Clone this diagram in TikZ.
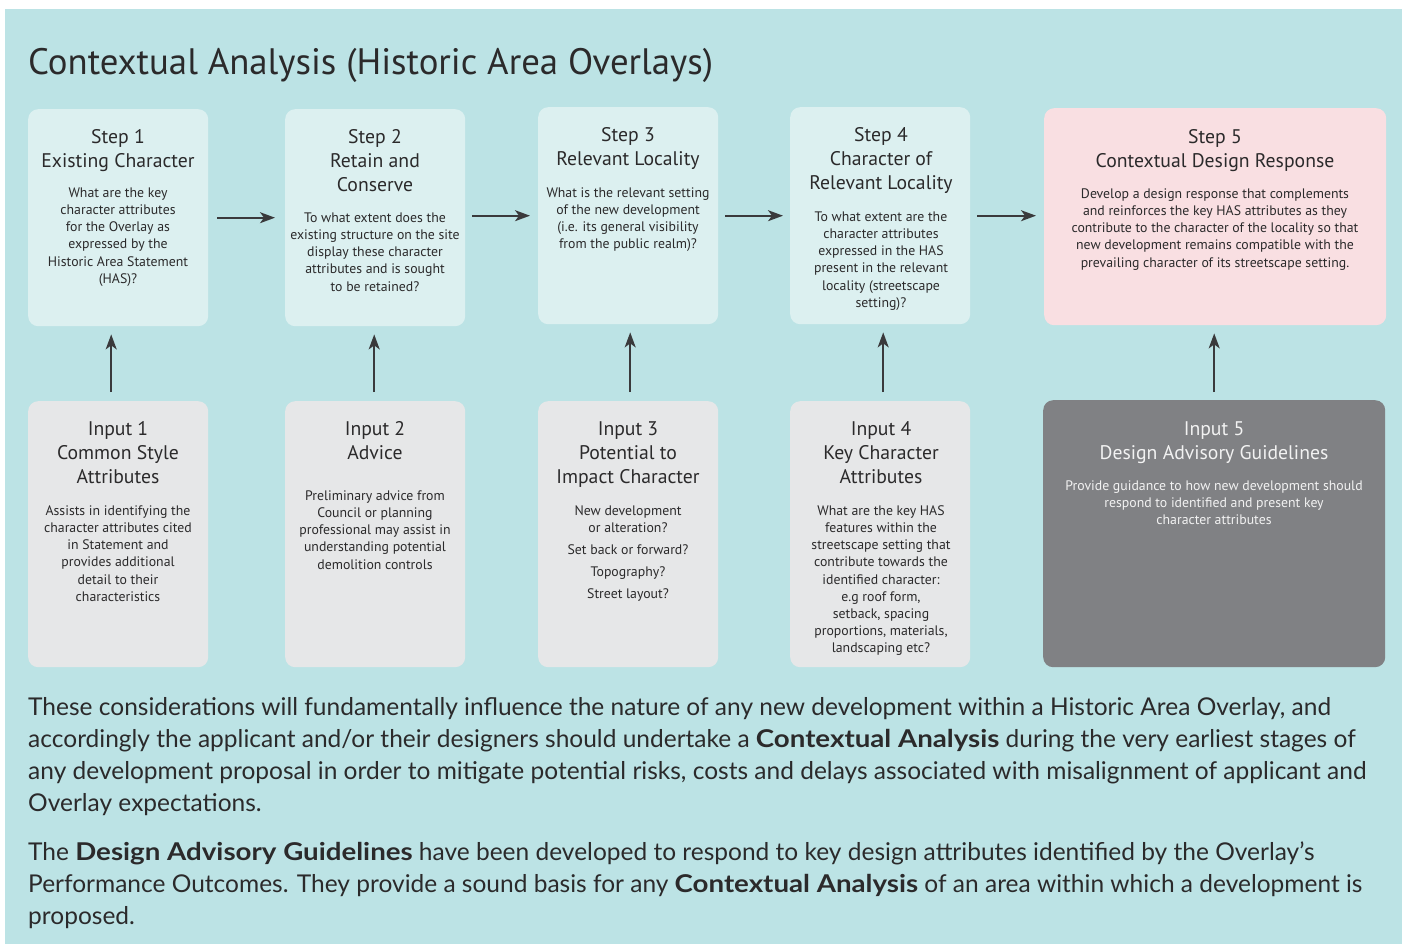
\documentclass[tikz,border=0pt]{standalone}
\usepackage{fontspec}
\setmainfont{PT Sans}
\newfontfamily\gillfont{Lato}
\usetikzlibrary{arrows.meta,calc}
\definecolor{bgc}{HTML}{BCE3E5}
\definecolor{stepc}{HTML}{DCF0F0}
\definecolor{pinkc}{HTML}{F9DFE2}
\definecolor{inc}{HTML}{E6E7E8}
\definecolor{darkc}{HTML}{808184}
\definecolor{txt}{HTML}{2B2A2B}
\definecolor{arr}{HTML}{3A3A3C}
\newcommand\wbold[1]{\scalebox{1.13}[1]{\textbf{#1}}}
\tikzset{
  card/.style={rounded corners=10pt, inner sep=0pt, minimum width=180pt, minimum height=217pt},
  wide/.style={minimum width=342pt},
  hd/.style={anchor=north, inner sep=0pt, align=center, text=txt, font=\fontsize{19.7}{24}\selectfont},
  bd/.style={anchor=north, inner sep=0pt, align=center, text=txt, font=\fontsize{13.8}{17.2}\selectfont},
  para/.style={anchor=north west, inner sep=0pt, align=left, text=txt, font=\gillfont\fontsize{24.5}{32}\selectfont},
  flow/.style={draw=arr, line width=1.6pt, -{Stealth[length=15pt,width=11pt,inset=4pt]}},
}
\begin{document}
\begin{tikzpicture}[x=1pt,y=-1pt]
\useasboundingbox (0,0) rectangle (1402,944);
\fill[bgc] (5,9) rectangle (1402,944);
% title
\node[anchor=base west, inner sep=0pt, text=txt, font=\fontsize{36.8}{44}\selectfont] (title) at (28,75) {Contextual Analysis (Historic Area Overlays)};
% step boxes
\node[card, fill=stepc, anchor=north west] (s1) at (28,109) {};
\node[card, fill=stepc, anchor=north west] (s2) at (285,109) {};
\node[card, fill=stepc, anchor=north west] (s3) at (538,107) {};
\node[card, fill=stepc, anchor=north west] (s4) at (790,107) {};
\node[card, wide, fill=pinkc, anchor=north west] (s5) at (1044,108) {};
% input boxes
\node[card, minimum height=266pt, fill=inc, anchor=north west] (i1) at (28,401) {};
\node[card, minimum height=266pt, fill=inc, anchor=north west] (i2) at (285,401) {};
\node[card, minimum height=266pt, fill=inc, anchor=north west] (i3) at (538,401) {};
\node[card, minimum height=266pt, fill=inc, anchor=north west] (i4) at (790,401) {};
\node[card, wide, minimum height=267pt, fill=darkc, anchor=north west] (i5) at (1043,400) {};
% step texts
\node[hd] (s1h) at (118,{143-16.8}) {\strut Step 1\\Existing Character};
\node[bd] (s1b) at (118,{197-12.04}) {\strut What are the key\\character attributes\\for the Overlay as\\expressed by the\\Historic Area Statement\\(HAS)?};
\node[hd] (s2h) at (375,{143-16.8}) {\strut Step 2\\Retain and\\Conserve};
\node[bd] (s2b) at (375,{222-12.04}) {\strut To what extent does the\\existing structure on the site\\display these character\\attributes and is sought\\to be retained?};
\node[hd] (s3h) at (628,{141-16.8}) {\strut Step 3\\Relevant Locality};
\node[bd] (s3b) at (628,{197-12.04}) {\strut What is the relevant setting\\of the new development\\(i.e. its general visibility\\from the public realm)?};
\node[hd] (s4h) at (881,{141-16.8}) {\strut Step 4\\Character of\\Relevant Locality};
\node[bd] (s4b) at (881,{221-12.04}) {\strut To what extent are the\\character attributes\\expressed in the HAS\\present in the relevant\\locality (streetscape\\setting)?};
\node[hd] (s5h) at (1215,{143-16.8}) {\strut Step 5\\Contextual Design Response};
\node[bd] (s5b) at (1215,{198-12.04}) {\strut Develop a design response that complements\\and reinforces the key HAS attributes as they\\contribute to the character of the locality so that\\new development remains compatible with the\\prevailing character of its streetscape setting.};
% input texts
\node[hd] (i1h) at (118,{435-16.8}) {\strut Input 1\\Common Style\\Attributes};
\node[bd] (i1b) at (118,{515-12.04}) {\strut Assists in identifying the\\character attributes cited\\in Statement and\\provides additional\\detail to their\\characteristics};
\node[hd] (i2h) at (375,{435-16.8}) {\strut Input 2\\Advice};
\node[bd] (i2b) at (375,{500-12.04}) {\strut Preliminary advice from\\Council or planning\\professional may assist in\\understanding potential\\demolition controls};
\node[hd] (i3h) at (628,{435-16.8}) {\strut Input 3\\Potential to\\Impact Character};
\node[bd] (i3b) at (628,{515-12.04}) {\strut New development\\or alteration?\\[4.8pt]Set back or forward?\\[4.6pt]Topography?\\[4.6pt]Street layout?};
\node[hd] (i4h) at (881,{435-16.8}) {\strut Input 4\\Key Character\\Attributes};
\node[bd] (i4b) at (881,{515-12.04}) {\strut What are the key HAS\\features within the\\streetscape setting that\\contribute towards the\\identified character:\\e.g roof form,\\setback, spacing\\proportions, materials,\\landscaping etc?};
\node[hd, text=white!95!black] (i5h) at (1214,{435-16.8}) {\strut Input 5\\Design Advisory Guidelines};
\node[bd, text=white!95!black] (i5b) at (1214,{490-12.04}) {\strut Provide guidance to how new development should\\respond to identified and present key\\character attributes};
% horizontal arrows
\draw[flow, shorten <=9pt, shorten >=10pt] (s1.east) -- (s2.west);
\draw[flow, shorten <=7pt, shorten >=8pt] (s2.east |- s3.west) -- (s3.west);
\draw[flow, shorten <=7pt, shorten >=7pt] (s3.east) -- (s4.west);
\draw[flow, shorten <=7pt, shorten >=8pt] (s4.east) -- (s4.east -| s5.west);
% vertical arrows
\coordinate (v1) at ($(i1.north)+(-7,0)$);
\coordinate (v2) at ($(i2.north)+(-1,0)$);
\coordinate (v3) at ($(i3.north)+(2,0)$);
\coordinate (v4) at ($(i4.north)+(3,0)$);
\draw[flow, shorten <=9pt, shorten >=8pt] (v1) -- (v1 |- s1.south);
\draw[flow, shorten <=9pt, shorten >=8pt] (v2) -- (v2 |- s2.south);
\draw[flow, shorten <=9pt, shorten >=8pt] (v3) -- (v3 |- s3.south);
\draw[flow, shorten <=9pt, shorten >=8pt] (v4) -- (v4 |- s4.south);
\draw[flow, shorten <=8pt, shorten >=8pt] (i5.north) -- (i5.north |- s5.south);
% bottom paragraphs
\node[para] (p1) at (28,{715-22.4}) {\strut These considerations will fundamentally influence the nature of any new development within a Historic Area Overlay, and\\accordingly the applicant and/or their designers should undertake a \wbold{Contextual Analysis} during the very earliest stages of\\any development proposal in order to mitigate potential risks, costs and delays associated with misalignment of applicant and\\Overlay expectations.};
\node[para] (p2) at (28,{860-22.4}) {\strut The \wbold{Design Advisory Guidelines} have been developed to respond to key design attributes identified by the Overlay’s\\Performance Outcomes. They provide a sound basis for any \wbold{Contextual Analysis} of an area within which a development is\\proposed.};
\end{tikzpicture}
\end{document}
